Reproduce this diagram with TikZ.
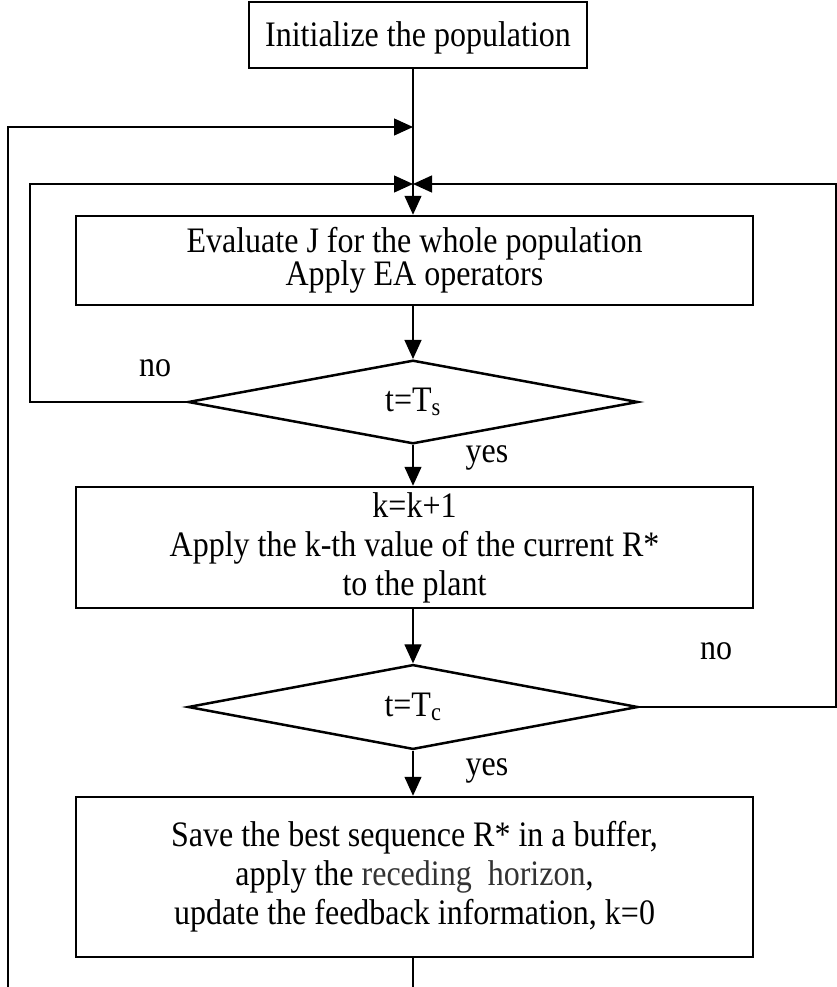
\documentclass[tikz,border=0pt]{standalone}
\usepackage{fontspec}
\usepackage{graphicx}
\setmainfont{Liberation Serif}
\usetikzlibrary{shapes.geometric,arrows.meta}
\newcommand{\tx}[1]{\scalebox{1}[1.12]{#1}}
\newcommand{\tightlines}{\lineskiplimit=-60pt\relax\lineskip=0pt\relax}
\tikzset{
  box/.style={draw,line width=2.5pt,inner sep=0pt,align=center,font=\fontsize{32}{39}\selectfont\tightlines},
  dec/.style={draw,diamond,line width=2.5pt,inner sep=0pt,font=\fontsize{32}{39}\selectfont},
  lbl/.style={inner sep=0pt,font=\fontsize{32}{39}\selectfont},
  conn/.style={line width=1.3pt},
  arr/.style={line width=1.3pt,-{Triangle[length=19pt,width=17pt]}},
}
\begin{document}
\begin{tikzpicture}[x=1pt,y=-1pt]
\useasboundingbox (0,0) rectangle (836,987);
\node[box,minimum width=338pt,minimum height=66pt,text depth=2pt] (init) at (418,35) {\tx{Initialize the population}};
\node[box,minimum width=677pt,minimum height=89pt,font=\fontsize{32}{33}\selectfont\tightlines] (eval) at (414.5,260.5) {\tx{Evaluate J for the whole population}\\\tx{Apply EA operators}};
\node[dec,minimum width=450pt,minimum height=80pt] (ts) at (413,402) {\tx{t=T\textsubscript{s}}};
\node[box,minimum width=677pt,minimum height=121pt] (apply) at (414.5,547.5) {\tx{k=k+1}\\\tx{Apply the k-th value of the current R*}\\\tx{to the plant}};
\node[dec,minimum width=450pt,minimum height=80pt] (tc) at (413,707) {\tx{t=T\textsubscript{c}}};
\node[box,minimum width=677pt,minimum height=160pt] (save) at (414.5,877) {\tx{Save the best sequence R* in a buffer,}\\\tx{apply the {\color{black!80}receding\ \ horizon},}\\\tx{update the feedback information, k=0}};
\node[lbl] (no1) at (155,368) {\tx{no}};
\node[lbl] (yes1) at (487,458) {\tx{yes}};
\node[lbl] (no2) at (716,651) {\tx{no}};
\node[lbl] (yes2) at (487,771) {\tx{yes}};
\coordinate (j1) at (413,127);
\coordinate (j2) at (413,184);
\coordinate (bl) at (8,987);
\coordinate (bc) at (413,987);
\draw[conn] (init.south -| j1) -- (j2);
\draw[arr] (j2) -- (eval.north -| j2);
\draw[arr] (bl) -- (8,127) -- (j1);
\draw[arr] (ts.west) -- (30,402) -- (30,184) -- (j2);
\draw[arr] (tc.east) -- (836,707) -- (836,184) -- (j2);
\draw[arr] (eval.south -| ts.north) -- (ts.north);
\draw[arr] (ts.south) -- (apply.north -| ts.south);
\draw[arr] (apply.south -| tc.north) -- (tc.north);
\draw[arr] (tc.south) -- (save.north -| tc.south);
\draw[conn] (save.south -| bc) -- (bc);
\end{tikzpicture}
\end{document}
